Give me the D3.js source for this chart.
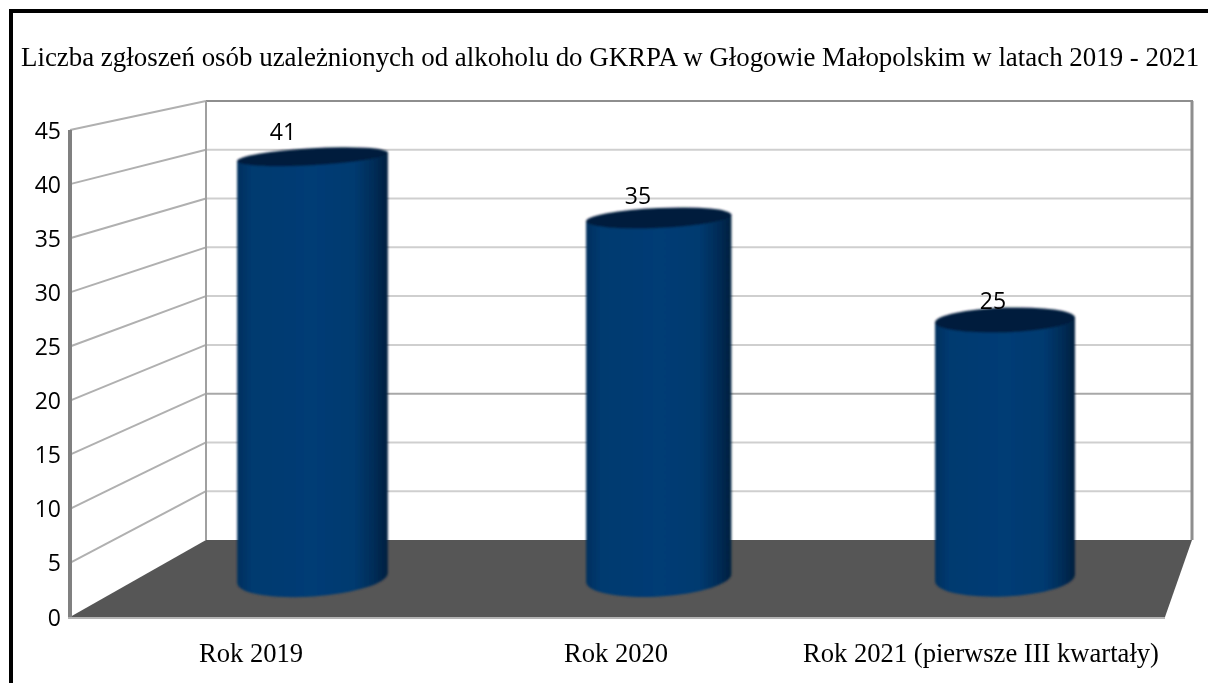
<!DOCTYPE html>
<html><head><meta charset="utf-8">
<script src="https://cdn.jsdelivr.net/npm/d3@7"></script>
<style>html,body{margin:0;padding:0;background:#fff}svg{display:block}</style>
</head><body><svg id="c" width="1208" height="683"></svg>
<script>
const titleText = "Liczba zgłoszeń osób uzależnionych od alkoholu do GKRPA w Głogowie Małopolskim w latach 2019 - 2021";
const categories = ["Rok 2019", "Rok 2020", "Rok 2021 (pierwsze III kwartały)"];
const values = [41, 35, 25];
const yTicks = [0, 5, 10, 15, 20, 25, 30, 35, 40, 45];

const svg = d3.select("#c");
const sans = "'Open Sans'", serif = "'Liberation Serif'";

// projection of the 3D box
const yFront = d3.scaleLinear().domain([0,45]).range([617,130]);
const yBack  = d3.scaleLinear().domain([0,45]).range([540,101]);
const yBar   = d3.scaleLinear().domain([0,45]).range([575,116]);
const baseOffset = 3;
const xFrontL = 70, xBackL = 206, xBackR = 1192, xFrontR = 1165;
const idx = categories.map((_, i) => i);
const xBar   = d3.scaleLinear().domain([0,2]).range([312.5,1005]);
const wBar   = d3.scaleLinear().domain([0,2]).range([151,140]);
const xLabel = d3.scaleLinear().domain([0,2]).range([283,993]);
const xCat   = d3.scaleLinear().domain([0,2]).range([251,981]);
const ryAt   = d3.scaleLinear().domain([156,578]).range([8.5,18.5]);
const tiltTop = d3.scaleLinear().domain([0,2]).range([-3.2,-2]);
const tiltBase = d3.scaleLinear().domain([0,2]).range([-4,-2.8]);
const labelGap = d3.scaleLinear().domain([156.5,320]).range([16.5,11]);

const defs = svg.append("defs");
const grad = defs.append("linearGradient").attr("id","cyl").attr("x1",0).attr("x2",1).attr("y1",0).attr("y2",0);
[[0,"#03305e"],[0.1,"#023a70"],[0.5,"#003c75"],[0.78,"#013a70"],[0.92,"#012b55"],[1,"#011f3e"]]
  .forEach(([o,c])=>grad.append("stop").attr("offset",o).attr("stop-color",c));
const soft = defs.append("filter").attr("id","soft").attr("x","-5%").attr("y","-5%").attr("width","110%").attr("height","110%");
soft.append("feGaussianBlur").attr("stdDeviation",0.8);

// floor
svg.append("path").attr("fill","#565656")
  .attr("d",`M${xFrontL},${yFront(0)}L${xBackL},${yBack(0)}L${xBackR},${yBack(0)}L${xFrontR},${yFront(0)}Z`);

// back wall grid
svg.append("g").selectAll("line").data(yTicks.filter(t=>t>0&&t<45)).join("line")
  .attr("x1",xBackL).attr("x2",xBackR).attr("y1",d=>yBack(d)).attr("y2",d=>yBack(d))
  .attr("stroke",d=>d===15?"#a8a8a8":"#cfcfcf").attr("stroke-width",2);
// side wall grid
svg.append("g").selectAll("line").data(yTicks.filter(t=>t>0)).join("line")
  .attr("x1",xFrontL).attr("x2",xBackL).attr("y1",d=>yFront(d)).attr("y2",d=>yBack(d))
  .attr("stroke","#b0b0b0").attr("stroke-width",2);

// frame
const frame = svg.append("g").attr("stroke","#8e8e8e").attr("fill","none");
frame.append("line").attr("x1",xBackL).attr("x2",xBackR+1).attr("y1",yBack(45)).attr("y2",yBack(45)).attr("stroke-width",2);
frame.append("line").attr("x1",xBackL).attr("x2",xBackL).attr("y1",yBack(45)).attr("y2",yBack(0)).attr("stroke-width",2).attr("stroke","#a0a0a0");
frame.append("line").attr("x1",xBackR).attr("x2",xBackR).attr("y1",yBack(45)).attr("y2",yBack(0)).attr("stroke-width",3);
frame.append("line").attr("x1",xFrontL).attr("x2",xFrontL).attr("y1",yFront(45)).attr("y2",yFront(0)+2).attr("stroke-width",4).attr("stroke","#808080");
frame.append("line").attr("x1",xFrontL-2).attr("x2",xFrontR).attr("y1",yFront(0)+1).attr("y2",yFront(0)+1).attr("stroke-width",2).attr("stroke","#b4b4b4");

// cylinders
const rad = a => a*Math.PI/180;
const bars = svg.append("g").attr("filter","url(#soft)").selectAll("g").data(idx).join("g");
bars.append("path").attr("fill","url(#cyl)").attr("d",i=>{
  const cx=xBar(i), rx=wBar(i)/2, yt=yBar(values[i]), yb=yBar(0)+baseOffset;
  const at=rad(tiltTop(i)), ab=rad(tiltBase(i));
  const tdx=rx*Math.cos(at), tdy=rx*Math.sin(at), bdx=rx*Math.cos(ab), bdy=rx*Math.sin(ab);
  return `M${cx-tdx},${yt-tdy}L${cx-bdx},${yb-bdy}`+
    `A${rx},${ryAt(yb)} ${tiltBase(i)} 0 0 ${cx+bdx},${yb+bdy}L${cx+tdx},${yt+tdy}Z`;
});
bars.append("ellipse").attr("fill","#021f3e")
  .attr("cx",0).attr("cy",0)
  .attr("rx",i=>wBar(i)/2).attr("ry",i=>ryAt(yBar(values[i])))
  .attr("transform",i=>`translate(${xBar(i)},${yBar(values[i])}) rotate(${tiltTop(i)})`);

// value labels
svg.append("g").selectAll("text").data(idx).join("text")
  .attr("x",xLabel).attr("y",i=>yBar(values[i])-labelGap(yBar(values[i])))
  .attr("text-anchor","middle").attr("font-family",sans).attr("font-size",23).attr("fill","#000")
  .text(i=>values[i]);

// y tick labels
svg.append("g").selectAll("text").data(yTicks).join("text")
  .attr("x",61).attr("y",d=>yFront(d)+8.5).attr("text-anchor","end")
  .attr("font-family",sans).attr("font-size",23).attr("fill","#000").text(d=>d);

// category labels
svg.append("g").selectAll("text").data(idx).join("text")
  .attr("x",xCat).attr("y",662).attr("text-anchor","middle")
  .attr("font-family",serif).attr("font-size",26.6).attr("fill","#000").text(i=>categories[i]);

// title
svg.append("text").attr("x",21).attr("y",65.5).attr("font-family",serif).attr("font-size",26.9).attr("fill","#000").text(titleText);

// page border
svg.append("rect").attr("x",9).attr("y",9).attr("width",1199).attr("height",4).attr("fill","#000");
svg.append("rect").attr("x",9).attr("y",9).attr("width",4).attr("height",674).attr("fill","#000");
</script></body></html>
